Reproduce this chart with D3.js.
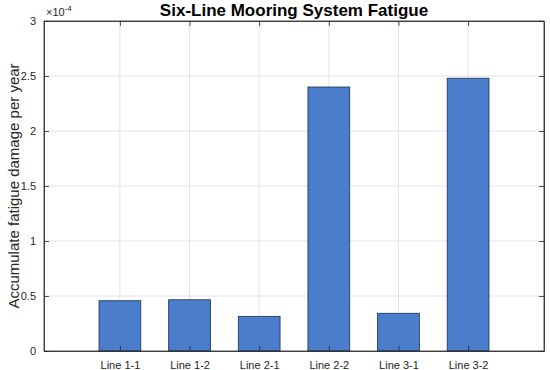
<!DOCTYPE html>
<html>
<head>
<meta charset="utf-8">
<script src="https://cdn.jsdelivr.net/npm/d3@7"></script>
<style>
  body { margin: 0; background: #fff; }
  text { font-family: Arial, "Liberation Sans", sans-serif; }
</style>
</head>
<body>
<div id="chart"></div>
<script>
// data (values in units of 1e-4)
var categories = ["Line 1-1", "Line 1-2", "Line 2-1", "Line 2-2", "Line 3-1", "Line 3-2"];
var damage = [0.457, 0.466, 0.315, 2.40, 0.343, 2.48];
var yTicks = [0, 0.5, 1, 1.5, 2, 2.5, 3];
var yTickLabels = ["0", "0.5", "1", "1.5", "2", "2.5", "3"];

var W = 550, H = 370;
var margin = { top: 21, right: 6, bottom: 19, left: 44 },
    width = W - margin.left - margin.right,
    height = H - margin.top - margin.bottom;

var svg = d3.select("#chart").append("svg")
    .attr("width", W)
    .attr("height", H);

var g = svg.append("g")
    .attr("transform", "translate(" + margin.left + "," + margin.top + ")");

// x is numeric like matlab bar positions 1..6, with a little padding
var xScale = d3.scaleLinear().domain([-0.09, 7.09]).range([0, width]);
var yScale = d3.scaleLinear().domain([0, 3]).range([height, 0]);
var idx = categories.map(function (d, i) { return i + 1; });
var barW = xScale(0.6) - xScale(0);

var axisColor = "#262626";

// grid
g.append("g").selectAll("line.gx")
    .data(idx).enter().append("line")
    .attr("x1", function (d) { return xScale(d); })
    .attr("x2", function (d) { return xScale(d); })
    .attr("y1", 0).attr("y2", height)
    .attr("stroke", "#e3e3e3").attr("stroke-width", 1);
g.append("g").selectAll("line.gy")
    .data(yTicks.slice(1, -1)).enter().append("line")
    .attr("x1", 0).attr("x2", width)
    .attr("y1", function (d) { return yScale(d); })
    .attr("y2", function (d) { return yScale(d); })
    .attr("stroke", "#e3e3e3").attr("stroke-width", 1);

// bars
g.append("g").selectAll("rect")
    .data(damage).enter().append("rect")
    .attr("x", function (d, i) { return xScale(idx[i]) - barW / 2; })
    .attr("y", function (d) { return yScale(d); })
    .attr("width", barW)
    .attr("height", function (d) { return height - yScale(d); })
    .attr("fill", "#4a7dcc")
    .attr("stroke", "#1e2f4a")
    .attr("stroke-width", 0.8);

// axes
var xAxis = d3.axisBottom(xScale).tickValues(idx)
    .tickFormat(function (d) { return categories[d - 1]; })
    .tickSizeInner(-5).tickSizeOuter(0).tickPadding(10);
var xAxisTop = d3.axisTop(xScale).tickValues(idx).tickFormat("")
    .tickSizeInner(-5).tickSizeOuter(0);
var yAxis = d3.axisLeft(yScale).tickValues(yTicks)
    .tickFormat(function (d, i) { return yTickLabels[i]; })
    .tickSizeInner(-5).tickSizeOuter(0).tickPadding(8);
var yAxisRight = d3.axisRight(yScale).tickValues(yTicks).tickFormat("")
    .tickSizeInner(-5).tickSizeOuter(0);

function styleAxis(sel) {
    sel.selectAll("path").attr("stroke", axisColor).attr("stroke-width", 0.8);
    sel.selectAll("line").attr("stroke", axisColor).attr("stroke-width", 0.8);
    sel.selectAll("text").attr("fill", axisColor).style("font-size", "11px")
        .style("font-family", "Arial, 'Liberation Sans', sans-serif");
}

g.append("g").attr("transform", "translate(0," + height + ")").call(xAxis).call(styleAxis);
g.append("g").call(xAxisTop).call(styleAxis);
g.append("g").call(yAxis).call(styleAxis);
g.append("g").attr("transform", "translate(" + width + ",0)").call(yAxisRight).call(styleAxis);

// box outline
g.append("rect")
    .attr("width", width).attr("height", height)
    .attr("fill", "none").attr("stroke", axisColor).attr("stroke-width", 0.8);

// exponent label
var expo = g.append("text")
    .attr("x", 2).attr("y", -5)
    .attr("fill", axisColor).style("font-size", "11px");
expo.append("tspan").text("\u00d710");
expo.append("tspan").attr("dy", -5).style("font-size", "8px").text("-4");

// title
svg.append("text")
    .attr("x", margin.left + width / 2).attr("y", 16)
    .attr("text-anchor", "middle")
    .attr("fill", "#000")
    .style("font-size", "17px").style("font-weight", "bold")
    .text("Six-Line Mooring System Fatigue");

// y label
svg.append("text")
    .attr("transform", "translate(19," + (margin.top + height / 2) + ") rotate(-90)")
    .attr("text-anchor", "middle")
    .attr("fill", axisColor)
    .style("font-size", "15px")
    .text("Accumulate fatigue damage per year");
</script>
</body>
</html>
